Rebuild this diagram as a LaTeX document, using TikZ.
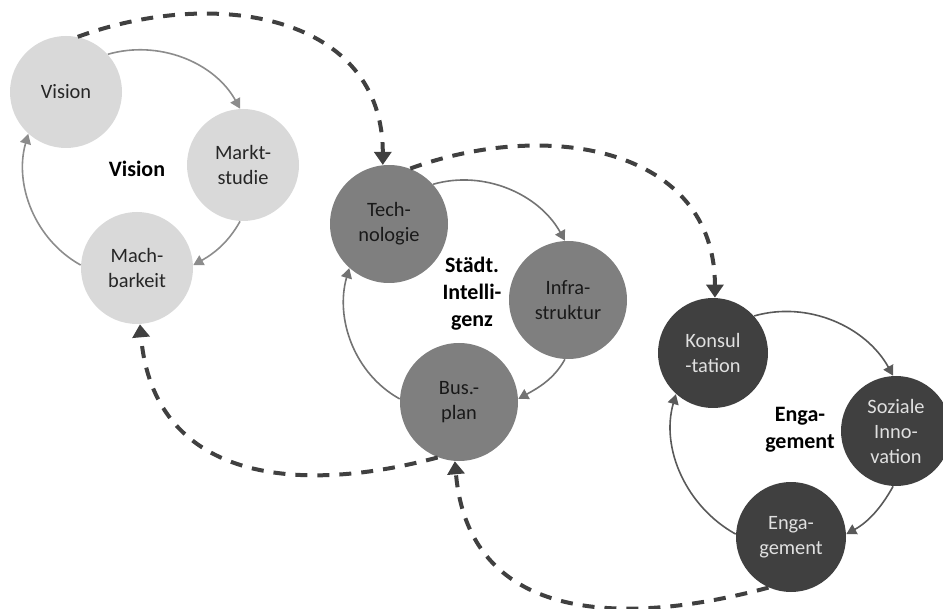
\documentclass[tikz,border=0pt]{standalone}
\usepackage{fontspec}
\setmainfont{Carlito}
\usetikzlibrary{arrows.meta}
\definecolor{fillA}{HTML}{D9D9D9}
\definecolor{fillB}{HTML}{7F7F7F}
\definecolor{fillC}{HTML}{404040}
\definecolor{arcA}{HTML}{8C8C8C}
\definecolor{arcB}{HTML}{737373}
\definecolor{arcC}{HTML}{595959}
\definecolor{linkgray}{HTML}{404040}
\begin{document}
\begin{tikzpicture}[x=0.5pt, y=0.5pt,
  stage/.style={circle, inner sep=0pt, align=center, font=\fontsize{10.2}{12.5}\selectfont},
  stageA/.style={stage, fill=fillA, text=black!85, minimum size=56pt},
  stageB/.style={stage, fill=fillB, text=black!90, minimum size=59pt},
  stageC/.style={stage, fill=fillC, text=white!88!black, minimum size=55pt},
  cycname/.style={align=center, font=\fontsize{11}{13.5}\selectfont\bfseries},
  cyc/.style={draw=#1, line width=0.8pt, looseness=0.95, -{Triangle[width=5.5pt,length=5pt]}},
  link/.style={draw=linkgray, line width=2pt, dash pattern=on 6pt off 5pt, -{Triangle[width=8.5pt,length=6.5pt]}}]
\useasboundingbox (0,0) rectangle (943,-609);
% first cycle
\node[stageA] (vis) at (66,-92){Vision};
\node[stageA] (mkt) at (243,-165){Markt-\\studie};
\node[stageA] (mach) at (137,-268){Mach-\\barkeit};
\node[cycname] (lab1) at (137,-169){Vision};
\draw[cyc=arcA](vis.42) to[out=16,in=119] (mkt.93);
\draw[cyc=arcA](mkt.-93) to[out=-119,in=29] (mach.3);
\draw[cyc=arcA](mach.177) to[out=151,in=254] (vis.228);
% second cycle
\node[stageB] (tech) at (389,-224){Tech-\\nologie};
\node[stageB] (infra) at (568,-300){Infra-\\struktur};
\node[stageB] (bus) at (459,-402){Bus.-\\plan};
\node[cycname] (lab2) at (472,-294){Städt.\\Intelli-\\genz};
\draw[cyc=arcB](tech.42) to[out=16,in=119] (infra.93);
\draw[cyc=arcB](infra.-93) to[out=-119,in=29] (bus.3);
\draw[cyc=arcB](bus.177) to[out=151,in=254] (tech.228);
% third cycle
\node[stageC] (kons) at (713,-353){Konsul\\-tation};
\node[stageC] (soz) at (896,-431){Soziale\\Inno-\\vation};
\node[stageC] (eng) at (791,-537){Enga-\\gement};
\node[cycname] (lab3) at (800,-430){Enga-\\gement};
\draw[cyc=arcC](kons.42) to[out=16,in=119] (soz.93);
\draw[cyc=arcC](soz.-93) to[out=-119,in=29] (eng.3);
\draw[cyc=arcC](eng.177) to[out=151,in=254] (kons.228);
% links between cycles
\draw[link](vis.78) to[out=20,in=90,looseness=1.15] (tech.96);
\draw[link](tech.69) to[out=20,in=90,looseness=1.15] (kons.88);
\draw[link](bus.249) to[out=195,in=275,looseness=1.2] (mach.273);
\draw[link](eng.246) to[out=195,in=275,looseness=1.2] (bus.266);
\end{tikzpicture}
\end{document}
